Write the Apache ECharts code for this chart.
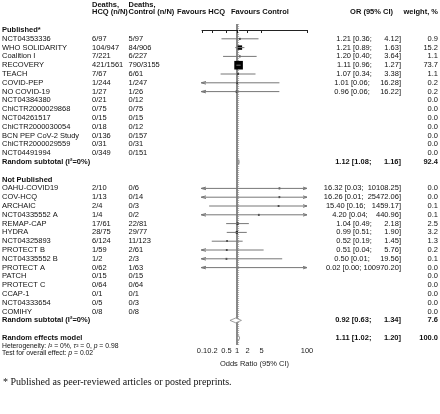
<!DOCTYPE html>
<html><head><meta charset="utf-8">
<script src="https://cdn.jsdelivr.net/npm/echarts@6/dist/echarts.min.js"></script>
<style>html,body{margin:0;padding:0;background:#fff}#c{width:440px;height:414px}</style>
</head><body><div id="c"></div>
<script>
// ---------- data ----------
const pubStudies = ["NCT04353336","WHO SOLIDARITY","Coalition I","RECOVERY","TEACH","COVID-PEP","NO COVID-19","NCT04384380","ChiCTR2000029868","NCT04261517","ChiCTR2000030054","BCN PEP CoV-2 Study","ChiCTR2000029559","NCT04491994"];
const pubHcq = ["6/97","104/947","7/221","421/1561","7/67","1/244","1/27","0/21","0/75","0/15","0/18","0/136","0/31","0/349"];
const pubCtrl = ["5/97","84/906","6/227","790/3155","6/61","1/247","1/26","0/12","0/75","0/15","0/12","0/157","0/31","0/151"];
const pubOR = [1.21,1.21,1.20,1.11,1.07,1.01,0.96,null,null,null,null,null,null,null];
const pubLo = [0.36,0.89,0.40,0.96,0.34,0.06,0.06,null,null,null,null,null,null,null];
const pubHi = [4.12,1.63,3.64,1.27,3.38,16.28,16.22,null,null,null,null,null,null,null];
const pubW = [0.9,15.2,1.1,73.7,1.1,0.2,0.2,0.0,0.0,0.0,0.0,0.0,0.0,0.0];
const pubSub = {or:1.12, lo:1.08, hi:1.16, w:92.4};

const npStudies = ["OAHU-COVID19","COV-HCQ","ARCHAIC","NCT04335552 A","REMAP-CAP","HYDRA","NCT04325893","PROTECT B","NCT04335552 B","PROTECT A","PATCH","PROTECT C","CCAP-1","NCT04333654","COMIHY"];
const npHcq = ["2/10","1/13","2/4","1/4","17/61","28/75","6/124","1/59","1/2","0/62","0/15","0/64","0/1","0/5","0/8"];
const npCtrl = ["0/6","0/14","0/3","0/2","22/81","29/77","11/123","2/61","2/3","1/63","0/15","0/64","0/1","0/3","0/8"];
const npOR = [16.32,16.26,15.40,4.20,1.04,0.99,0.52,0.51,0.50,0.02,null,null,null,null,null];
const npLo = [0.03,0.01,0.16,0.04,0.49,0.51,0.19,0.04,0.01,0.00,null,null,null,null,null];
const npHi = [10108.25,25472.06,1459.17,440.96,2.18,1.90,1.45,5.76,19.56,100970.20,null,null,null,null,null];
const npW = [0.0,0.0,0.1,0.1,2.5,3.2,1.3,0.2,0.1,0.0,0.0,0.0,0.0,0.0,0.0];
const npSub = {or:0.92, lo:0.63, hi:1.34, w:7.6};

const overall = {or:1.11, lo:1.02, hi:1.20, w:100.0};
const heterogeneity = {I2:"0%", tau2:"0", p:"0.98"};
const overallP = "0.02";
const tickValues = [0.1,0.2,0.5,1,2,5,100];
const tickLabels = ["0.1","0.2","0.5","1","2","5","100"];

// ---------- layout ----------
const ROW0 = 30, ROWH = 8.8;
const XMIN = 0.1, XMAX = 100;
const PLOT_TOP = 24, PLOT_BOTTOM_Y = 345, PLOT_LEFT = 202, PLOT_W = 105;
const COL = {label:2, hcq:92, ctrl:128.5, orR:401, w:438};
const FF = "'Liberation Sans', Arial, sans-serif";
const FS = 7.5;
const rowOf = y => (y - ROW0) / ROWH;

const fmt = v => v.toFixed(2);
const padL = (s, n) => (s.length < n ? ' '.repeat(n - s.length) : '') + s;
const allHi = pubHi.concat(npHi).filter(v=>v!=null).map(fmt);
const HIW = Math.max.apply(null, allHi.map(s=>s.length));
const orText = (e,l,h) => fmt(e) + ' [' + fmt(l) + '; ' + padL(fmt(h), HIW) + ']';

function cell(x, text, align, bold, extra){ return Object.assign({x:x, text:text, align:align||'left', bold:!!bold}, extra||{}); }
const textRows = [];
textRows.push({r:rowOf(4.6), cells:[cell(COL.hcq,'Deaths,','left',true), cell(COL.ctrl,'Deaths,','left',true)]});
textRows.push({r:rowOf(12.2), cells:[cell(COL.hcq,'HCQ (n/N)','left',true), cell(COL.ctrl,'Control (n/N)','left',true),
  cell(225,'Favours HCQ','right',true), cell(231,'Favours Control','left',true),
  cell(393,'OR (95% CI)','right',true), cell(COL.w,'weight, %','right',true)]});
function studyRow(r, label, hcq, ctrl, or, lo, hi, w, bold){
  const cells=[cell(COL.label, label, 'left', bold)];
  if(hcq!=null) cells.push(cell(COL.hcq, hcq));
  if(ctrl!=null) cells.push(cell(COL.ctrl, ctrl));
  if(or!=null) cells.push(cell(COL.orR, orText(or,lo,hi), 'right', bold));
  if(w!=null) cells.push(cell(COL.w, w.toFixed(1), 'right', bold));
  return {r:r, cells:cells};
}
textRows.push({r:0, cells:[cell(COL.label,'Published*','left',true)]});
pubStudies.forEach((s,i)=>textRows.push(studyRow(1+i, s, pubHcq[i], pubCtrl[i], pubOR[i], pubLo[i], pubHi[i], pubW[i])));
textRows.push(studyRow(15, 'Random subtotal (I\u00b2=0%)', null, null, pubSub.or, pubSub.lo, pubSub.hi, pubSub.w, true));
textRows.push({r:17, cells:[cell(COL.label,'Not Published','left',true)]});
npStudies.forEach((s,i)=>textRows.push(studyRow(18+i, s, npHcq[i], npCtrl[i], npOR[i], npLo[i], npHi[i], npW[i])));
textRows.push(studyRow(33, 'Random subtotal (I\u00b2=0%)', null, null, npSub.or, npSub.lo, npSub.hi, npSub.w, true));
textRows.push(studyRow(35, 'Random effects model', null, null, overall.or, overall.lo, overall.hi, overall.w, true));
const richI = {i:{fontStyle:'italic', fontSize:6.8, fontFamily:FF, fill:'#111'}};
textRows.push({r:rowOf(345.8), cells:[cell(COL.label,
  'Heterogeneity: {i|I}\u00b2 = '+heterogeneity.I2+', {i|\u03c4}\u00b2 = '+heterogeneity.tau2+', {i|p} = '+heterogeneity.p,
  'left', false, {size:6.8, rich:richI})]});
textRows.push({r:rowOf(352.8), cells:[cell(COL.label,'Test for overall effect: {i|p} = '+overallP,'left',false,{size:6.8, rich:richI})]});
textRows.push({r:rowOf(382), cells:[cell(3,'* Published as peer-reviewed articles or posted preprints.','left',false,
  {font:'10px "Liberation Serif", "Times New Roman", serif'})]});

// study marks
const studyData = [];
pubOR.forEach((v,i)=>{ if(v!=null) studyData.push([v, pubLo[i], pubHi[i], pubW[i], 1+i]); });
npOR.forEach((v,i)=>{ if(v!=null) studyData.push([v, npLo[i], npHi[i], npW[i], 18+i]); });
const diamondData = [
  [pubSub.or, pubSub.lo, pubSub.hi, 15],
  [npSub.or, npSub.lo, npSub.hi, 33],
  [overall.or, overall.lo, overall.hi, 35]
];

const chart = echarts.init(document.getElementById('c'), null, {renderer:'canvas'});
const option = {
  animation:false,
  backgroundColor:'#fff',
  grid:[
    {left:0, top:0, width:440, height:414},
    {left:PLOT_LEFT, top:PLOT_TOP, width:PLOT_W, height:PLOT_BOTTOM_Y-PLOT_TOP}
  ],
  xAxis:[
    {gridIndex:0, type:'value', min:0, max:440, show:false},
    {gridIndex:1, type:'log', logBase:10, min:XMIN, max:XMAX, position:'bottom',
     axisLine:{show:true, lineStyle:{color:'#222', width:1}},
     axisTick:{show:true, length:3, customValues:tickValues, lineStyle:{color:'#222'}},
     axisLabel:{show:true, customValues:tickValues, margin:2, fontSize:FS, fontFamily:FF, color:'#222',
       formatter:v=>{ const k = tickValues.findIndex(t=>Math.abs(t-v)<1e-6*Math.max(1,t)); return k>=0?tickLabels[k]:''; }},
     splitLine:{show:false}, minorTick:{show:false},
     name:'Odds Ratio (95% CI)', nameLocation:'middle', nameGap:10,
     nameTextStyle:{fontSize:FS, fontFamily:FF, color:'#222'}}
  ],
  yAxis:[
    {gridIndex:0, type:'value', inverse:true, min:rowOf(0), max:rowOf(414), show:false},
    {gridIndex:1, type:'value', inverse:true, min:rowOf(PLOT_TOP), max:rowOf(PLOT_BOTTOM_Y), show:false}
  ],
  series:[
    {type:'line', xAxisIndex:1, yAxisIndex:1, data:[[1, rowOf(PLOT_TOP)],[1, rowOf(PLOT_BOTTOM_Y)]],
     showSymbol:false, symbol:'none', lineStyle:{color:'#111', width:1}, silent:true, z:1},
    {type:'line', xAxisIndex:1, yAxisIndex:1, data:[[overall.or, rowOf(PLOT_TOP)],[overall.or, rowOf(PLOT_BOTTOM_Y)]],
     showSymbol:false, symbol:'none', lineStyle:{color:'#aaa', width:1, type:[1,1]}, silent:true, z:1},
    {type:'custom', xAxisIndex:1, yAxisIndex:1, data:studyData, clip:false, z:3,
     encode:{x:0, y:4},
     renderItem:(params, api)=>{
       const est=api.value(0), lo=api.value(1), hi=api.value(2), w=api.value(3), r=api.value(4);
       const cl=Math.max(lo, XMIN), ch=Math.min(hi, XMAX);
       const pL=api.coord([cl, r]), pH=api.coord([ch, r]);
       const y=pL[1];
       const kids=[];
       if(est>=XMIN && est<=XMAX){
         const p=api.coord([est, r]);
         const s=Math.max(1.8, 8.6*Math.pow(w/73.7, 0.42));
         kids.push({type:'rect', shape:{x:p[0]-s/2, y:p[1]-s/2, width:s, height:s}, style:{fill:'#000'}});
       }
       kids.push({type:'line', shape:{x1:pL[0], y1:y, x2:pH[0], y2:y}, style:{stroke:'#777', lineWidth:1}});
       if(lo<XMIN) kids.push({type:'polyline', shape:{points:[[pL[0]+4,y-1.3],[pL[0]-1,y],[pL[0]+4,y+1.3]]}, style:{stroke:'#777', fill:null, lineWidth:1}});
       if(hi>XMAX) kids.push({type:'polyline', shape:{points:[[pH[0]-4,y-1.3],[pH[0],y],[pH[0]-4,y+1.3]]}, style:{stroke:'#777', fill:null, lineWidth:1}});
       return {type:'group', children:kids};
     }},
    {type:'custom', xAxisIndex:1, yAxisIndex:1, data:diamondData, clip:false, z:4,
     encode:{x:0, y:3},
     renderItem:(params, api)=>{
       const est=api.value(0), lo=api.value(1), hi=api.value(2), r=api.value(3);
       const a=api.coord([lo,r]), b=api.coord([est,r]), c=api.coord([hi,r]);
       const h=2.4;
       return {type:'polygon', shape:{points:[[a[0],a[1]],[b[0],b[1]-h],[c[0],c[1]],[b[0],b[1]+h]]},
         style:{fill:'#fff', stroke:'#888', lineWidth:0.8}};
     }},
    {type:'custom', xAxisIndex:0, yAxisIndex:0, data:textRows.map((t,i)=>[0, t.r, i]), clip:false, z:5,
     encode:{x:0, y:1},
     renderItem:(params, api)=>{
       const t=textRows[params.dataIndex];
       const y=api.coord([0, t.r])[1];
       const kids=t.cells.map(c=>{
         const x=api.coord([c.x, t.r])[0];
         const st={text:c.text, fill:'#111', font:c.font || ((c.bold?'bold ':'')+(c.size||FS)+'px '+FF),
           textAlign:c.align, align:c.align, textVerticalAlign:'middle', verticalAlign:'middle'};
         if(c.rich) st.rich=c.rich;
         return {type:'text', x:x, y:y, style:st};
       });
       return {type:'group', children:kids};
     }}
  ]
};
chart.setOption(option);
</script>
</body></html>
